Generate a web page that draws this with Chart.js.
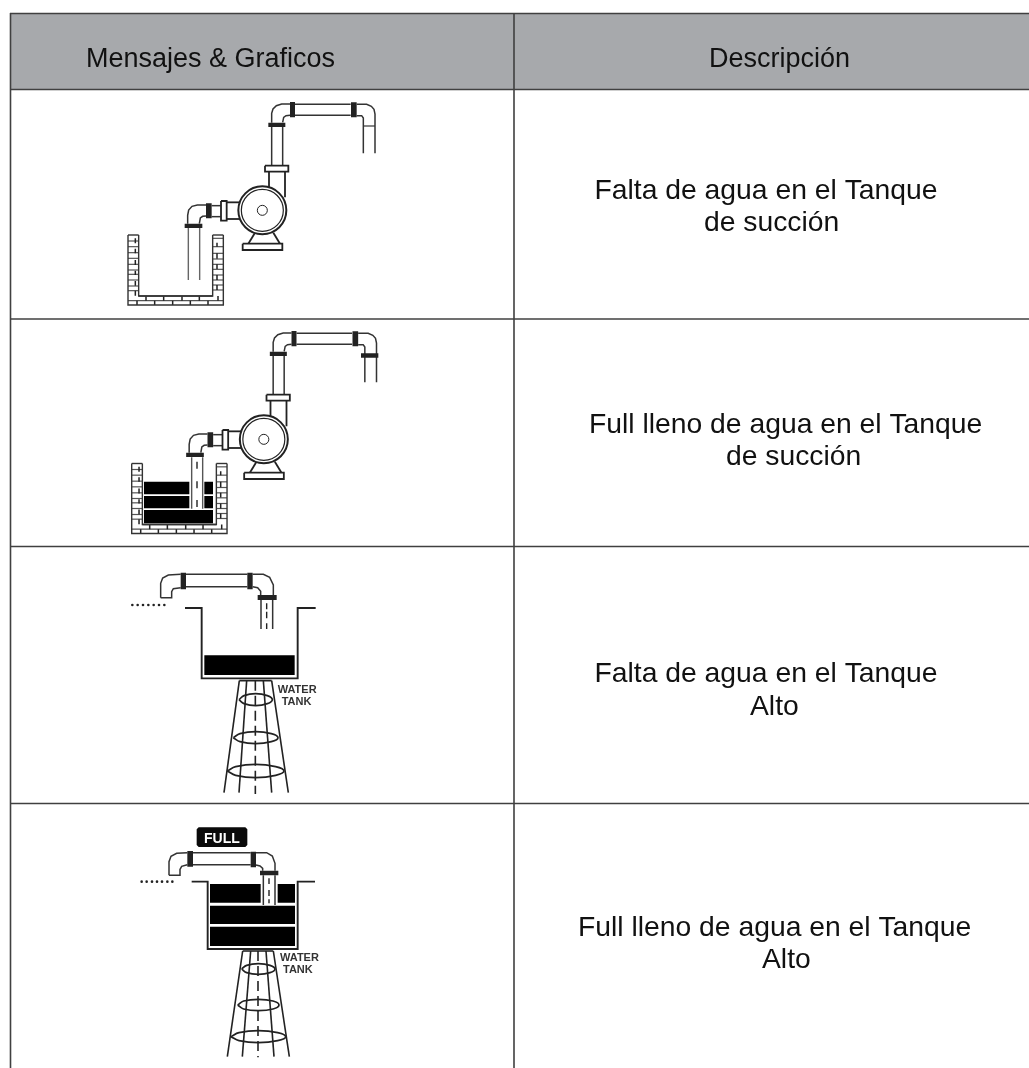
<!DOCTYPE html>
<html>
<head>
<meta charset="utf-8">
<title>Mensajes & Graficos</title>
<script src="https://cdn.jsdelivr.net/npm/chart.js@4"></script>
<style>
  html, body { margin: 0; padding: 0; background: #fff; }
  canvas { display: block; }
</style>
</head>
<body>
<canvas id="tabla" width="1029" height="1068"></canvas>
<script>
// ---------------------------------------------------------------------
// Table texts
// ---------------------------------------------------------------------
const headerLabels = ["Mensajes & Graficos", "Descripción"];
const descLabels = [
  "Falta de agua en el Tanque", "de succión",
  "Full lleno de agua en el Tanque", "de succión",
  "Falta de agua en el Tanque", "Alto",
  "Full lleno de agua en el Tanque", "Alto"
];
const tankLabels = ["WATER", "TANK", "WATER", "TANK"];
const fullLabel = "FULL";

// ---------------------------------------------------------------------
// Table grid (page pixels)
// ---------------------------------------------------------------------
const headerBand = [[10, 13], [1029, 13], [1029, 89], [10, 89]];
const gridLines = [
  [[10.5, 13], [10.5, 1068]],
  [[514, 13], [514, 1068]],
  [[10, 13.5], [1029, 13.5]],
  [[10, 89.5], [1029, 89.5]],
  [[10, 319], [1029, 319]],
  [[10, 546.5], [1029, 546.5]],
  [[10, 803.5], [1029, 803.5]]
];

// ---------------------------------------------------------------------
// Pump drawing, read off the 3x crops, so 3 units = 1 pixel
// ---------------------------------------------------------------------
const pumpPipes = [
  [[515, 98], [515, 70], [519, 57], [529, 47], [545, 42], [570, 42]],
  [[570, 76], [558, 77], [551, 82], [548, 97]],
  [[585, 43], [752, 43]],
  [[585, 76], [752, 76]],
  [[770, 43], [800, 43], [814, 49], [822, 58], [825, 72], [825, 190]],
  [[770, 77], [785, 77], [790, 84], [790, 190]],
  [[515, 111], [515, 226]],
  [[548, 111], [548, 226]],
  [[318, 345], [292, 345], [276, 349], [266, 360], [263, 376], [263, 401]],
  [[318, 378], [308, 379], [301, 384], [298, 401]],
  [[335, 347], [362, 347]],
  [[335, 380], [362, 380]]
];
const pumpHeavy = [
  [[507, 245], [507, 292]],
  [[555, 245], [555, 322]],
  [[380, 337], [420, 337]],
  [[380, 387], [420, 387]],
  [[445, 461], [465, 428]],
  [[540, 461], [520, 428]]
];
const pumpFlanges = [
  [570, 36, 585, 82],
  [753, 37, 770, 82],
  [505, 98, 556, 111],
  [318, 340, 335, 385],
  [254, 401, 307, 414]
];
const pumpPlates = [
  [495, 227, 565, 245],
  [363, 333, 380, 392],
  [428, 461, 547, 480]
];
const pumpRings = [[487, 361]];
const dropLineA = [[[790, 108], [825, 108]]];
const suctionDry = [
  [[265, 414], [265, 570]],
  [[299, 414], [299, 570]]
];
const flangeFull = [[783, 100, 835, 113]];
const suctionWet = [
  [[275, 412], [275, 566]],
  [[308, 412], [308, 566]]
];
const suctionWetDashes = [
  [[291, 425], [291, 446]],
  [[291, 484], [291, 505]],
  [[291, 540], [291, 561]]
];

// ---------------------------------------------------------------------
// Brick pit (crop of row 1)
// ---------------------------------------------------------------------
const pitEdge = [
  [[18, 15], [18, 225], [304, 225], [304, 15]],
  [[50, 15], [50, 198], [272, 198], [272, 15]],
  [[18, 15], [50, 15]],
  [[272, 15], [304, 15]],
  [[50, 198], [272, 198]]
];
const pitCourses = [
  [[18, 33], [50, 33]], [[18, 50], [50, 50]], [[18, 68], [50, 68]], [[18, 85], [50, 85]],
  [[18, 103], [50, 103]], [[18, 120], [50, 120]], [[18, 133], [50, 133]], [[18, 150], [50, 150]],
  [[18, 168], [50, 168]], [[18, 182], [50, 182]],
  [[272, 25], [304, 25]], [[272, 50], [304, 50]], [[272, 70], [304, 70]], [[272, 87], [304, 87]],
  [[272, 103], [304, 103]], [[272, 118], [304, 118]], [[272, 135], [304, 135]], [[272, 150], [304, 150]],
  [[272, 165], [304, 165]], [[272, 180], [304, 180]],
  [[18, 212], [304, 212]]
];
const pitJoints = [
  [[40, 25], [40, 40]], [[40, 56], [40, 70]], [[40, 90], [40, 105]],
  [[40, 122], [40, 135]], [[40, 153], [40, 167]], [[40, 182], [40, 197]],
  [[285, 38], [285, 50]], [[285, 70], [285, 86]], [[285, 103], [285, 117]],
  [[285, 135], [285, 150]], [[285, 165], [285, 180]],
  [[72, 198], [72, 212]], [[125, 198], [125, 212]], [[180, 198], [180, 212]],
  [[232, 198], [232, 212]], [[288, 198], [288, 212]],
  [[45, 212], [45, 225]], [[98, 212], [98, 225]], [[152, 212], [152, 225]],
  [[205, 212], [205, 225]], [[258, 212], [258, 225]]
];
const pitWater = [
  [57, 80, 193, 118], [238, 80, 264, 118],
  [57, 123, 193, 160], [238, 123, 264, 160],
  [57, 165, 264, 205]
];

// ---------------------------------------------------------------------
// Water tower, low level (crop of row 3)
// ---------------------------------------------------------------------
const lowPipes = [
  [[122, 143], [122, 100], [128, 84], [145, 75], [182, 73]],
  [[122, 143], [155, 143], [155, 125], [160, 116], [182, 113]],
  [[198, 73], [382, 73]],
  [[198, 110], [382, 110]],
  [[398, 73], [430, 73], [449, 82], [460, 105], [460, 135]],
  [[398, 110], [413, 113], [422, 124], [422, 135]],
  [[423, 150], [423, 237]],
  [[458, 150], [458, 237]]
];
const lowFlanges = [[182, 68, 198, 118], [382, 68, 398, 118], [413, 135, 470, 150]];
const lowDashes = [[[440, 160], [440, 178]], [[440, 185], [440, 205]], [[440, 220], [440, 237]]];
const lowDots = [[37, 165], [53, 165], [69, 165], [85, 165], [101, 165], [117, 165], [133, 165]];
const lowWall = [[[195, 174], [245, 174], [245, 385], [533, 385], [533, 174], [587, 174]]];
const lowWater = [[253, 316, 524, 375]];
const lowTower = [
  [[358, 392], [455, 392]],
  [[358, 392], [312, 728]],
  [[380, 392], [357, 728]],
  [[430, 392], [455, 728]],
  [[455, 392], [505, 728]]
];
const lowAxis = [[[406, 392], [406, 732]]];
const lowHoops = [
  [[357, 449], [372, 437], [407, 431], [442, 437], [457, 449], [442, 461], [407, 467], [372, 461], [357, 449]],
  [[340, 563], [360, 551], [407, 545], [454, 551], [474, 563], [454, 575], [407, 581], [360, 575], [340, 563]],
  [[322, 663], [347, 650], [407, 643], [467, 650], [492, 663], [467, 676], [407, 683], [347, 676], [322, 663]]
];

// ---------------------------------------------------------------------
// Water tower, full level (crop of row 4)
// ---------------------------------------------------------------------
const fullBadge = [[236, 52], [376, 52], [382, 58], [382, 105], [376, 111], [236, 111], [230, 105], [230, 58]];
const highPipes = [
  [[147, 196], [147, 155], [153, 139], [170, 130], [202, 128]],
  [[147, 196], [180, 196], [180, 178], [185, 169], [202, 164]],
  [[219, 128], [392, 128]],
  [[219, 164], [392, 164]],
  [[408, 128], [440, 128], [457, 138], [465, 160], [465, 182]],
  [[408, 165], [420, 168], [428, 175], [428, 182]],
  [[430, 196], [430, 285]],
  [[465, 196], [465, 285]]
];
const highFlanges = [[202, 123, 219, 170], [392, 125, 408, 172], [420, 182, 475, 196]];
const highDashes = [[[447, 205], [447, 222]], [[447, 240], [447, 258]], [[447, 268], [447, 280]]];
const highDots = [[65, 215], [80, 215], [96, 215], [111, 215], [126, 215], [142, 215], [157, 215]];
const highWall = [[[215, 215], [263, 215], [263, 417], [533, 417], [533, 215], [585, 215]]];
const highWater = [[270, 222, 422, 278], [473, 222, 525, 278], [270, 287, 525, 342], [270, 350, 525, 408]];
const highTower = [
  [[368, 423], [460, 423]],
  [[368, 423], [322, 740]],
  [[392, 423], [367, 740]],
  [[438, 423], [462, 740]],
  [[460, 423], [508, 740]]
];
const highAxis = [[[414, 423], [414, 742]]];
const highHoops = [
  [[365, 477], [380, 466], [415, 461], [450, 466], [465, 477], [450, 488], [415, 493], [380, 488], [365, 477]],
  [[353, 585], [371, 573], [415, 568], [459, 573], [477, 585], [459, 597], [415, 602], [371, 597], [353, 585]],
  [[333, 680], [357, 668], [415, 662], [473, 668], [497, 680], [473, 692], [415, 698], [357, 692], [333, 680]]
];

// ---------------------------------------------------------------------
// Dataset helpers: each stroke or block is one scatter dataset
// ---------------------------------------------------------------------
const INK = "#222";
const GREY = "#555";
const datasets = [];

const toPoint = (p, ox, oy) => ({ x: ox + p[0] / 3, y: oy + p[1] / 3 });

function addLines(list, ox, oy, color, width, dash) {
  list.forEach(points => datasets.push({
    data: points.map(p => toPoint(p, ox, oy)),
    showLine: true,
    borderColor: color,
    borderWidth: width,
    borderDash: dash || [],
    pointRadius: 0,
    fill: false
  }));
}

function addHoops(list, ox, oy) {
  list.forEach(points => datasets.push({
    data: points.map(p => toPoint(p, ox, oy)),
    showLine: true,
    borderColor: INK,
    borderWidth: 1.7,
    tension: 0.4,
    pointRadius: 0,
    fill: false
  }));
}

function addPolygon(points, ox, oy, fillColor, strokeColor, width) {
  datasets.push({
    data: points.concat([points[0]]).map(p => toPoint(p, ox, oy)),
    showLine: true,
    fill: "shape",
    backgroundColor: fillColor,
    borderColor: strokeColor || fillColor,
    borderWidth: width === undefined ? 0 : width,
    pointRadius: 0
  });
}

function addBlocks(list, ox, oy, fillColor, strokeColor, width) {
  list.forEach(r => addPolygon(
    [[r[0], r[1]], [r[2], r[1]], [r[2], r[3]], [r[0], r[3]]],
    ox, oy, fillColor, strokeColor, width
  ));
}

function addDots(list, ox, oy) {
  datasets.push({
    data: list.map(p => toPoint(p, ox, oy)),
    showLine: false,
    pointRadius: 1.3,
    pointBackgroundColor: INK,
    pointBorderWidth: 0
  });
}

function addCircle(p, ox, oy, radius, width) {
  datasets.push({
    data: [toPoint(p, ox, oy)],
    showLine: false,
    pointRadius: radius,
    pointBackgroundColor: "#fff",
    pointBorderColor: INK,
    pointBorderWidth: width
  });
}

function addPump(ox, oy) {
  addLines(pumpHeavy, ox, oy, INK, 1.8);
  addCircle(pumpRings[0], ox, oy, 24, 2);
  addCircle(pumpRings[0], ox, oy, 21, 1.2);
  addCircle(pumpRings[0], ox, oy, 5, 1);
  addLines(pumpPipes, ox, oy, "#333", 1.5);
  addBlocks(pumpPlates, ox, oy, "#fff", INK, 1.8);
  addBlocks(pumpFlanges, ox, oy, INK);
}

function addPit(ox, oy) {
  addLines(pitCourses, ox, oy, GREY, 1.2);
  addLines(pitJoints, ox, oy, INK, 1.5);
  addLines(pitEdge, ox, oy, "#333", 1.4);
}

function addTower(tower, axis, hoops, ox, oy) {
  addLines(tower, ox, oy, INK, 1.6);
  addLines(axis, ox, oy, INK, 1.6, [10, 5]);
  addHoops(hoops, ox, oy);
}

// ---------------------------------------------------------------------
// Build everything, bottom layer first
// ---------------------------------------------------------------------
datasets.push({
  data: headerBand.concat([headerBand[0]]).map(p => ({ x: p[0], y: p[1] })),
  showLine: true, fill: "shape", backgroundColor: "#a7a9ac", borderWidth: 0, pointRadius: 0
});
gridLines.forEach(l => datasets.push({
  data: l.map(p => ({ x: p[0], y: p[1] })),
  showLine: true, borderColor: "#404040", borderWidth: 1.6, pointRadius: 0
}));

// row 1, dry suction tank
addPump(100, 90);
addLines(dropLineA, 100, 90, "#333", 1.2);
addLines(suctionDry, 100, 90, "#666", 1.4);
addPit(122, 230);

// row 2, full suction tank
addPump(101.5, 319);
addBlocks(flangeFull, 100, 320, INK);
addPit(125.7, 458.5);
addBlocks(pitWater, 125, 455, "#000");
addLines(suctionWet, 100, 320, "#555", 1.4);
addLines(suctionWetDashes, 100, 320, INK, 1.4);

// row 3, low level in high tank
addLines(lowPipes, 120, 550, "#333", 1.5);
addBlocks(lowFlanges, 120, 550, INK);
addLines(lowDashes, 120, 550, INK, 1.4);
addDots(lowDots, 120, 550);
addLines(lowWall, 120, 550, INK, 1.9);
addBlocks(lowWater, 120, 550, "#000");
addTower(lowTower, lowAxis, lowHoops, 120, 550);

// row 4, full high tank
addPolygon(fullBadge, 120, 810, "#0a0a0a");
addLines(highPipes, 120, 810, "#333", 1.5);
addBlocks(highFlanges, 120, 810, INK);
addLines(highDashes, 120, 810, INK, 1.4);
addDots(highDots, 120, 810);
addLines(highWall, 120, 810, INK, 1.9);
addBlocks(highWater, 120, 810, "#000");
addTower(highTower, highAxis, highHoops, 120, 810);

// first dataset in the array is painted last by Chart.js
datasets.reverse();

// ---------------------------------------------------------------------
// Text plugin, drawn through the same scales
// ---------------------------------------------------------------------
const textPlugin = {
  id: "tableText",
  afterDatasetsDraw(chart) {
    const { ctx, scales } = chart;
    const put = (text, x, y, font, color) => {
      ctx.font = font;
      ctx.fillStyle = color;
      ctx.fillText(text, scales.x.getPixelForValue(x), scales.y.getPixelForValue(y));
    };
    ctx.save();
    ctx.textAlign = "left";
    ctx.textBaseline = "alphabetic";

    const big = "27px 'Liberation Sans', Arial, sans-serif";
    const desc = "28.3px 'Liberation Sans', Arial, sans-serif";
    const small = "bold 11px 'Liberation Sans', Arial, sans-serif";
    const badge = "bold 14px 'Liberation Sans', Arial, sans-serif";

    const headerX = [86, 709];
    headerLabels.forEach((t, i) => put(t, headerX[i], 67, big, "#111"));

    const descX = [594.5, 704, 589, 726, 594.5, 750, 578, 762];
    const descY = [199, 231, 433, 465, 682, 715, 936, 968];
    descLabels.forEach((t, i) => put(t, descX[i], descY[i], desc, "#111"));

    const tankX = [277.7, 281.7, 280, 283];
    const tankY = [692.7, 704.7, 960.7, 973.3];
    tankLabels.forEach((t, i) => put(t, tankX[i], tankY[i], small, "#333"));

    put(fullLabel, 204, 842.7, badge, "#fff");
    ctx.restore();
  }
};

new Chart(document.getElementById("tabla"), {
  type: "scatter",
  data: { datasets },
  options: {
    responsive: false,
    animation: false,
    layout: { padding: 0, autoPadding: false },
    plugins: { legend: { display: false }, tooltip: { enabled: false } },
    scales: {
      x: { type: "linear", min: 0, max: 1029, display: false },
      y: { type: "linear", min: 0, max: 1068, reverse: true, display: false }
    }
  },
  plugins: [textPlugin]
});
</script>
</body>
</html>
